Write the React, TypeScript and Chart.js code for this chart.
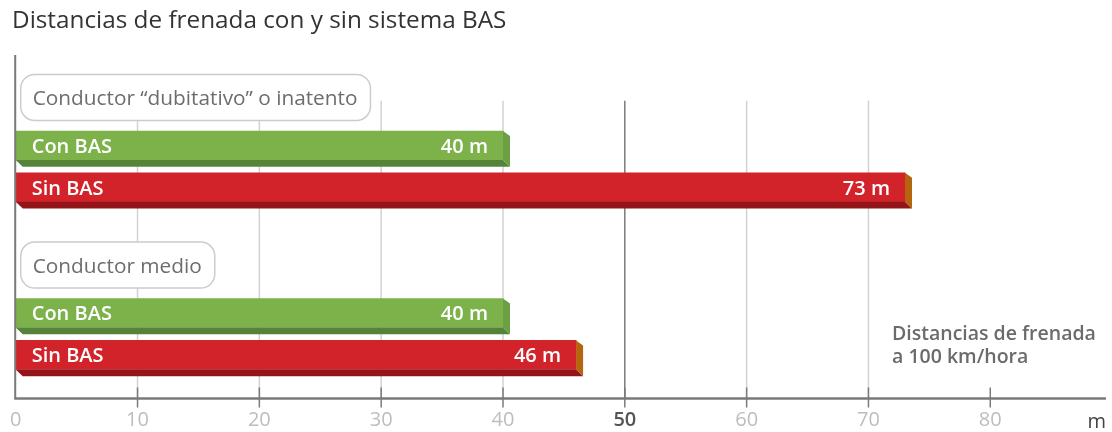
import React, { useEffect, useRef } from 'react';
import { Chart, registerables } from 'chart.js';

Chart.register(...registerables);

const TITLE = 'Distancias de frenada con y sin sistema BAS';
const groups = ['Conductor “dubitativo” o inatento', 'Conductor medio'];
const seriesNames = ['Con BAS', 'Sin BAS'];
const conBAS = [40, 40];
const sinBAS = [73, 46];
const xTicks = [0, 10, 20, 30, 40, 50, 60, 70, 80];
const unitLabel = 'm';
const noteLines = ['Distancias de frenada', 'a 100 km/hora'];

const ROWS_PER_GROUP = 4;
const FONT = '"Open Sans", "Noto Sans", sans-serif';

const COLORS = {
  con: { face: '#7db24b', strip: '#56833a', cap: '#6c9f42' },
  sin: { face: '#d2232b', strip: '#931519', cap: '#b5650f' },
};

const decor = {
  id: 'basDecor',
  beforeDatasetsDraw(chart: any) {
    const { ctx, chartArea } = chart;
    const x = chart.scales.x;
    const axisY = chartArea.bottom;
    const gridTop = chartArea.top + 45.7;
    ctx.save();
    // grid lines
    x.ticks.forEach((t: any) => {
      const v = t.value;
      if (v <= 0 || v >= 80) return;
      const px = x.getPixelForValue(v);
      ctx.beginPath();
      ctx.lineWidth = 1.5;
      ctx.strokeStyle = v === 50 ? '#7a7a7a' : '#d2d2d2';
      ctx.moveTo(px, gridTop);
      ctx.lineTo(px, axisY);
      ctx.stroke();
    });
    // axis line
    ctx.beginPath();
    ctx.lineWidth = 2.5;
    ctx.strokeStyle = '#7a7a7a';
    ctx.moveTo(chartArea.left - 1.5, axisY);
    ctx.lineTo(chartArea.right, axisY);
    ctx.stroke();
    // tick marks
    x.ticks.forEach((t: any) => {
      if (t.value <= 0) return;
      const px = x.getPixelForValue(t.value);
      ctx.beginPath();
      ctx.lineWidth = 1.5;
      ctx.strokeStyle = '#7a7a7a';
      ctx.moveTo(px, axisY - 11);
      ctx.lineTo(px, axisY + 9);
      ctx.stroke();
    });
    // group label boxes
    const meta = chart.getDatasetMeta(0);
    ctx.font = `400 20.8px ${FONT}`;
    groups.forEach((g, i) => {
      const el = meta.data[i];
      if (!el) return;
      const cy = el.y - 48;
      const tw = ctx.measureText(g).width;
      const bx = chartArea.left + 5;
      const bw = tw + 25;
      const bh = 46;
      ctx.beginPath();
      ctx.roundRect(bx, cy - bh / 2, bw, bh, 14);
      ctx.fillStyle = '#ffffff';
      ctx.fill();
      ctx.lineWidth = 1.5;
      ctx.strokeStyle = '#cccccc';
      ctx.stroke();
      ctx.fillStyle = '#6d6d6d';
      ctx.textAlign = 'left';
      ctx.textBaseline = 'alphabetic';
      ctx.fillText(g, bx + 12, cy + 7.5);
    });
    ctx.restore();
  },
  afterDatasetsDraw(chart: any) {
    const { ctx, chartArea } = chart;
    const dx = 7;
    const dy = 6.7;
    ctx.save();
    [0, 1].forEach((d) => {
      const meta = chart.getDatasetMeta(d);
      const col = d === 0 ? COLORS.con : COLORS.sin;
      const values = d === 0 ? conBAS : sinBAS;
      meta.data.forEach((el: any, i: number) => {
        const { x: xe, y: yc, base, height } = el.getProps(['x', 'y', 'base', 'height'], true);
        const top = yc - height / 2;
        const bottom = yc + height / 2;
        // bottom face
        ctx.beginPath();
        ctx.moveTo(base, bottom);
        ctx.lineTo(xe, bottom);
        ctx.lineTo(xe + dx, bottom + dy);
        ctx.lineTo(base + dx, bottom + dy);
        ctx.closePath();
        ctx.fillStyle = col.strip;
        ctx.fill();
        // end cap
        ctx.beginPath();
        ctx.moveTo(xe, top);
        ctx.lineTo(xe + dx, top + 5);
        ctx.lineTo(xe + dx, bottom + dy);
        ctx.lineTo(xe, bottom);
        ctx.closePath();
        ctx.fillStyle = col.cap;
        ctx.fill();
        // texts
        ctx.fillStyle = '#ffffff';
        ctx.font = `600 20px ${FONT}`;
        ctx.textBaseline = 'alphabetic';
        ctx.textAlign = 'left';
        ctx.fillText(seriesNames[d], base + 16, yc + 7.3);
        ctx.textAlign = 'right';
        ctx.fillText(`${values[i]} m`, xe - 15, yc + 7.3);
      });
    });
    // left vertical line
    ctx.beginPath();
    ctx.lineWidth = 2;
    ctx.strokeStyle = '#7a7a7a';
    ctx.moveTo(chartArea.left - 0.5, chartArea.top);
    ctx.lineTo(chartArea.left - 0.5, chartArea.bottom);
    ctx.stroke();
    ctx.restore();
  },
  afterDraw(chart: any) {
    const { ctx, chartArea } = chart;
    ctx.save();
    ctx.textAlign = 'left';
    ctx.textBaseline = 'alphabetic';
    ctx.fillStyle = '#333333';
    ctx.font = `400 24.3px ${FONT}`;
    ctx.fillText(TITLE, 12, 28);
    ctx.fillStyle = '#6b6b6b';
    ctx.font = `600 19.5px ${FONT}`;
    ctx.fillText(noteLines[0], 892, 339.5);
    ctx.fillText(noteLines[1], 892, 363);
    ctx.fillStyle = '#444444';
    ctx.font = `400 20px ${FONT}`;
    ctx.textAlign = 'right';
    ctx.fillText(unitLabel, chartArea.right, 428);
    ctx.restore();
  },
};

export default function App() {
  const ref = useRef<HTMLCanvasElement | null>(null);
  useEffect(() => {
    if (!ref.current) return;
    const conData = groups.map((_, i) => ({ x: conBAS[i], y: i * ROWS_PER_GROUP }));
    const sinData = groups.map((_, i) => ({ x: sinBAS[i], y: i * ROWS_PER_GROUP + 1 }));
    const chart = new Chart(ref.current, {
      type: 'bar',
      data: {
        datasets: [
          { label: seriesNames[0], data: conData as any, backgroundColor: COLORS.con.face, borderWidth: 0, barThickness: 29, grouped: false } as any,
          { label: seriesNames[1], data: sinData as any, backgroundColor: COLORS.sin.face, borderWidth: 0, barThickness: 29, grouped: false } as any,
        ],
      },
      options: {
        indexAxis: 'y',
        animation: false,
        responsive: true,
        maintainAspectRatio: false,
        layout: { padding: { top: 55, left: 12.8, right: 6, bottom: 0 } },
        plugins: {
          legend: { display: false },
          tooltip: { enabled: false },
          title: { display: false },
        },
        scales: {
          x: {
            type: 'linear',
            min: 0,
            max: 89.5,
            afterBuildTicks: (s: any) => {
              s.ticks = xTicks.map((v) => ({ value: v }));
            },
            afterFit: (s: any) => {
              s.height = 33.5;
            },
            grid: { display: false, drawTicks: false },
            border: { display: false },
            ticks: {
              padding: 10,
              maxRotation: 0,
              autoSkip: false,
              color: (c: any) => (c.tick && c.tick.value === 50 ? '#555555' : '#bdbdbd'),
              font: (c: any) => ({ family: FONT, size: 20, weight: c.tick && c.tick.value === 50 ? '600' : '400' }),
            },
          },
          y: {
            type: 'linear',
            min: -2.16,
            max: 6.04,
            reverse: true,
            offset: false,
            display: false,
          },
        },
      } as any,
      plugins: [decor],
    });
    return () => chart.destroy();
  }, []);
  return (
    <div style={{ position: 'fixed', left: 0, top: 0, width: 1112, height: 432, background: '#ffffff' }}>
      <canvas ref={ref} />
    </div>
  );
}
